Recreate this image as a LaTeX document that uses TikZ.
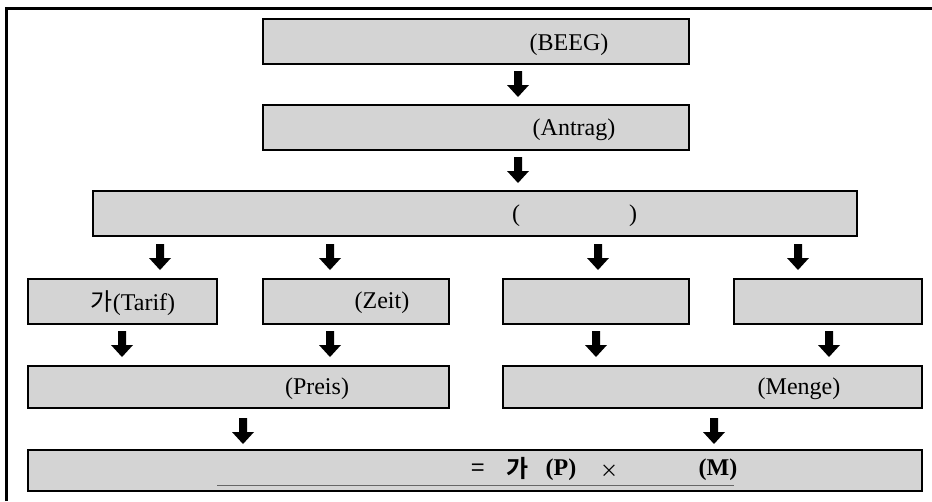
\documentclass[tikz,border=0pt]{standalone}
\usepackage{fontspec}
\setmainfont{Liberation Serif}
\newfontfamily\kr{Noto Sans CJK KR}
\newfontfamily\krb{Noto Sans CJK KR Bold}
\begin{document}
\begin{tikzpicture}[x=1pt,y=-1pt,
  box/.style={draw=black, fill=boxgray, line width=2pt, inner sep=0pt},
  lbl/.style={inner sep=0pt, font=\fontsize{24}{26}\selectfont},
  dnarr/.pic={\fill[black] (-4,0) -- (4,0) -- (4,14) -- (11,14) -- (0,26) -- (-11,14) -- (-4,14) -- cycle;}]
\definecolor{boxgray}{RGB}{212,212,212}
\useasboundingbox (0,0) rectangle (932,501);
% outer frame (cut off at right and bottom)
\draw[line width=3pt] (6,501) -- (6,8) -- (932,8);
% boxes
\node[box, minimum width=426pt, minimum height=45pt] (beeg) at (476,41.5) {};
\node[box, minimum width=426pt, minimum height=45pt] (antrag) at (476,127.5) {};
\node[box, minimum width=764pt, minimum height=45pt] (wide) at (475,213.5) {};
\node[box, minimum width=189pt, minimum height=45pt] (tarif) at (122.5,301.5) {};
\node[box, minimum width=186pt, minimum height=45pt] (zeit) at (356,301.5) {};
\node[box, minimum width=186pt, minimum height=45pt] (empa) at (596,301.5) {};
\node[box, minimum width=188pt, minimum height=45pt] (empb) at (828,301.5) {};
\node[box, minimum width=421pt, minimum height=42pt] (preis) at (238.5,387) {};
\node[box, minimum width=419pt, minimum height=42pt] (menge) at (712.5,387) {};
\node[box, minimum width=894pt, minimum height=41pt] (result) at (475,470.5) {};
% texts
\node[lbl] (tbeeg) at (569,45) {(BEEG)};
\node[lbl] (tantrag) at (574,130) {(Antrag)};
\node[lbl] (tpl) at (516,216) {(};
\node[lbl] (tpr) at (633,216) {)};
\node[lbl] (ttarif) at (133,303) {{\kr 가}(Tarif)};
\node[lbl] (tzeit) at (382,303) {(Zeit)};
\node[lbl] (tpreis) at (317,389) {(Preis)};
\node[lbl] (tmenge) at (799,389) {(Menge)};
\node[lbl] (teq) at (478,470) {{\kr =}};
\node[lbl] (tga) at (518,468) {{\krb 가}};
\node[lbl] (tp) at (561,470) {\textbf{(P)}};
\node[lbl, font=\fontsize{18}{20}\selectfont] (tx) at (609,471) {{\kr ×}};
\node[lbl] (tm) at (718,470) {\textbf{(M)}};
\draw[black!60, line width=1pt] (217,485) -- (734,485);
% arrows
\pic at (518,71) {dnarr};
\pic at (518,157) {dnarr};
\pic at (160,244) {dnarr};
\pic at (330,244) {dnarr};
\pic at (598,244) {dnarr};
\pic at (798,244) {dnarr};
\pic at (122,331) {dnarr};
\pic at (330,331) {dnarr};
\pic at (596,331) {dnarr};
\pic at (829,331) {dnarr};
\pic at (243,418) {dnarr};
\pic at (714,418) {dnarr};
\end{tikzpicture}
\end{document}
